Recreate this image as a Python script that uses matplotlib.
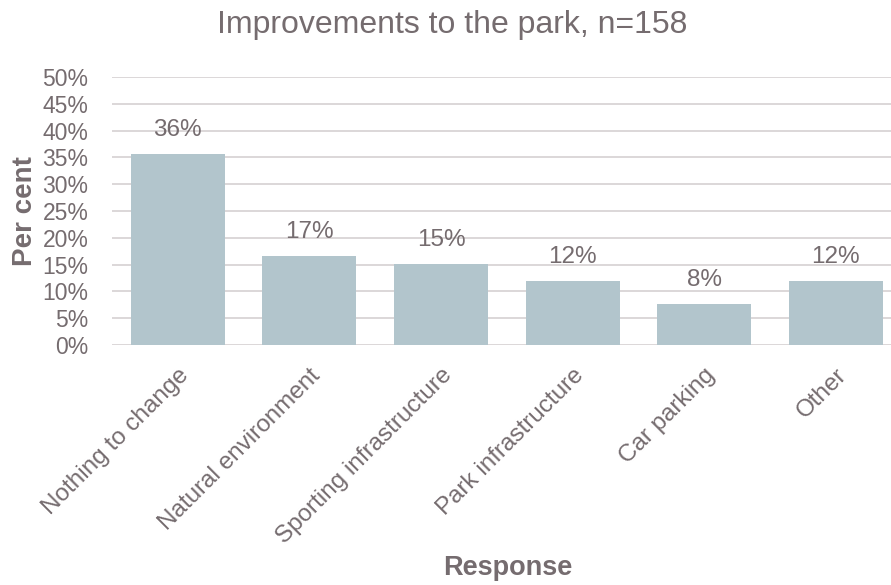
import matplotlib.pyplot as plt
import numpy as np

categories = ['Nothing to change', 'Natural environment', 'Sporting infrastructure',
              'Park infrastructure', 'Car parking', 'Other']
percent = [35.6, 16.6, 15.2, 12.0, 7.6, 12.0]
yticks = [0, 5, 10, 15, 20, 25, 30, 35, 40, 45, 50]

text_col = '#756C6F'
bar_col = '#B2C5CC'
grid_col = '#D9D4D6'

plt.rcParams['font.family'] = ['Liberation Sans', 'DejaVu Sans']

fig = plt.figure(figsize=(8.91, 5.85), dpi=100)
W, H = 891, 585
ax = fig.add_axes([112 / W, 1 - 345 / H, (891 - 112) / W, (345 - 77) / H])

x = np.arange(len(categories))
ax.bar(x, percent, width=0.714, color=bar_col, zorder=2)
for xi, v in zip(x, percent):
    ax.text(xi, v + 2.4, f'{v:.0f}%', ha='center', va='bottom',
            fontsize=17.5, color=text_col)

ax.set_ylim(0, 50)
ax.set_xlim(-0.5, 5.42)
ax.set_yticks(yticks)
ax.set_yticklabels([f'{t}%' for t in yticks])
ax.yaxis.grid(True, color=grid_col, linewidth=1.3, zorder=0)
ax.tick_params(axis='y', length=0, pad=17, labelsize=16.5, labelcolor=text_col)
ax.tick_params(axis='x', length=0, pad=14, labelsize=17.5, labelcolor=text_col)
ax.set_xticks(x)
ax.set_xticklabels(categories, rotation=45, ha='right', rotation_mode='anchor')
for s in ax.spines.values():
    s.set_visible(False)

ax.set_ylabel('Per cent', fontsize=20, fontweight='bold', color=text_col, labelpad=3)
fig.text(508 / W, 1 - 568 / H, 'Response', fontsize=19.5, fontweight='bold',
         color=text_col, ha='center', va='center')
fig.text(452 / W, 1 - 25 / H, 'Improvements to the park, n=158', fontsize=23,
         color=text_col, ha='center', va='center')

fig.savefig('out.png', dpi=100)
